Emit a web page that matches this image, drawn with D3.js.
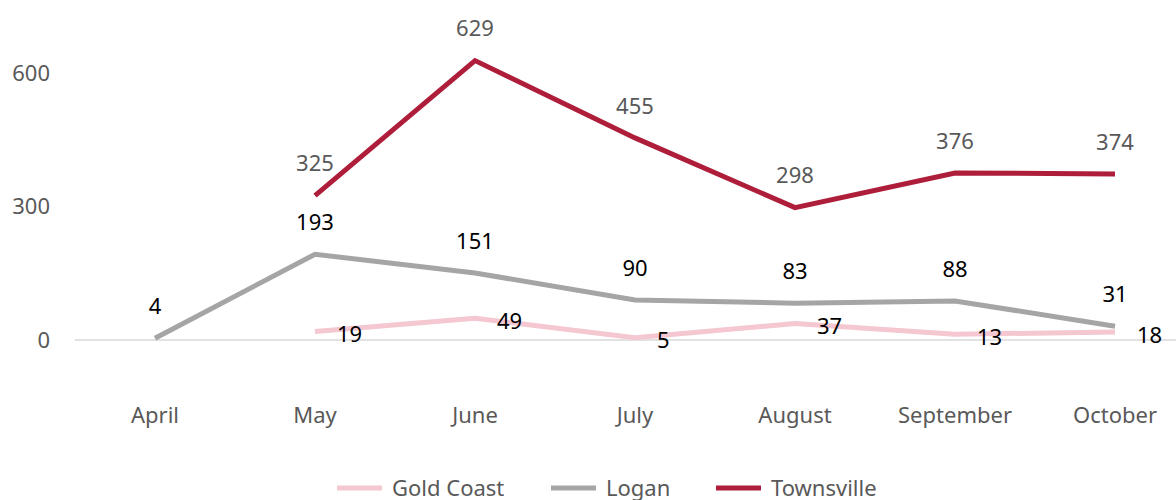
<!DOCTYPE html>
<html>
<head>
<meta charset="utf-8">
<script src="https://cdn.jsdelivr.net/npm/d3@7"></script>
<style>
  body { margin: 0; background: #fff; }
  svg { display: block; font-family: "Segoe UI", "Noto Sans", sans-serif; }
</style>
</head>
<body>
<script>
const months = ["April", "May", "June", "July", "August", "September", "October"];
const goldCoast = [null, 19, 49, 5, 37, 13, 18];
const logan = [4, 193, 151, 90, 83, 88, 31];
const townsville = [null, 325, 629, 455, 298, 376, 374];
const yTicks = [0, 300, 600];

const width = 1176, height = 500;
const fontSize = 22;

const series = [
  {name: "Gold Coast", values: goldCoast, color: "#F4C7D1", label: "right", labelColor: "#000"},
  {name: "Logan", values: logan, color: "#A5A5A5", label: "above", labelColor: "#000"},
  {name: "Townsville", values: townsville, color: "#AE1E3B", label: "above", labelColor: "#595959"}
];

const svg = d3.select("body").append("svg")
  .attr("width", width)
  .attr("height", height);

const x = d3.scaleBand().domain(months).range([75, 1195]);
const y = d3.scaleLinear().domain([0, 600]).range([340, 73.5]);
const cx = (d) => x(d) + x.bandwidth() / 2;

// zero line
svg.append("line")
  .attr("x1", 75).attr("x2", width)
  .attr("y1", y(0)).attr("y2", y(0))
  .attr("stroke", "#D9D9D9").attr("stroke-width", 1.5);

// y axis labels
svg.selectAll(".ytick")
  .data(yTicks)
  .enter()
  .append("text")
  .attr("class", "ytick")
  .attr("x", 50)
  .attr("y", (d) => y(d))
  .attr("dy", "0.35em")
  .attr("text-anchor", "end")
  .attr("font-size", fontSize)
  .attr("fill", "#595959")
  .text((d) => d);

// x axis labels
svg.selectAll(".xtick")
  .data(months)
  .enter()
  .append("text")
  .attr("class", "xtick")
  .attr("x", (d) => cx(d))
  .attr("y", 415)
  .attr("dy", "0.35em")
  .attr("text-anchor", "middle")
  .attr("font-size", fontSize)
  .attr("fill", "#595959")
  .text((d) => d);

const line = d3.line()
  .defined((d) => d.v != null)
  .x((d) => cx(d.m))
  .y((d) => y(d.v));

series.forEach((s) => {
  const pts = months.map((m, i) => ({m: m, v: s.values[i]}));
  svg.append("path")
    .datum(pts)
    .attr("d", line)
    .attr("fill", "none")
    .attr("stroke", s.color)
    .attr("stroke-width", 5);

  svg.selectAll(".lbl-" + s.name.replace(" ", ""))
    .data(pts.filter((d) => d.v != null))
    .enter()
    .append("text")
    .attr("x", (d) => s.label == "right" ? cx(d.m) + 22 : cx(d.m))
    .attr("y", (d) => s.label == "right" ? y(d.v) + 3 : y(d.v) - 32)
    .attr("dy", "0.35em")
    .attr("text-anchor", s.label == "right" ? "start" : "middle")
    .attr("font-size", fontSize)
    .attr("fill", s.labelColor)
    .text((d) => d.v);
});

// legend
const legendX = [337, 551, 716];
const legend = svg.selectAll(".legend")
  .data(series)
  .enter()
  .append("g")
  .attr("transform", (d, i) => "translate(" + legendX[i] + ",488)");

legend.append("line")
  .attr("x1", 0).attr("x2", 45)
  .attr("stroke", (d) => d.color)
  .attr("stroke-width", 5);

legend.append("text")
  .attr("x", 55)
  .attr("dy", "0.35em")
  .attr("font-size", fontSize)
  .attr("fill", "#595959")
  .text((d) => d.name);
</script>
</body>
</html>
